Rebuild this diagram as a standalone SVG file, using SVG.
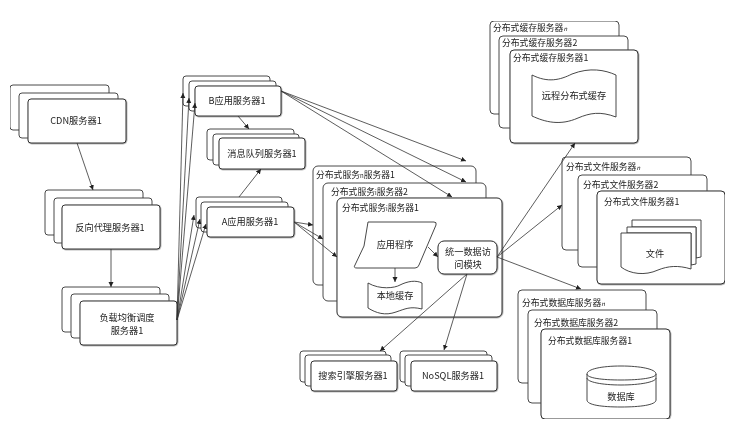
<svg xmlns="http://www.w3.org/2000/svg" width="732" height="427" viewBox="0 0 732 427">
<style>
text{font-family:"Noto Sans CJK SC","Noto Sans",sans-serif;font-size:9.2px;fill:#222;text-anchor:middle}
.l{text-anchor:start;font-size:8.8px}
.m{font-size:6px}
.b,.s{fill:#fff;stroke:#333;stroke-width:.9}
.f{fill:#fff;stroke:#333;stroke-width:1;filter:url(#sh)}
.c{fill:none;stroke:#333;stroke-width:.8;marker-end:url(#a)}
</style>
<defs>
<marker id="a" markerUnits="userSpaceOnUse" markerWidth="6" markerHeight="6" refX="5" refY="2.5" orient="auto"><path d="M0 0L5 2.5L0 5z" fill="#222"/></marker>
<filter id="sh" x="-5%" y="-5%" width="110%" height="110%"><feDropShadow dx=".5" dy=".5" stdDeviation=".3" flood-color="#777"/></filter>
<filter id="scan" x="0" y="0" width="100%" height="100%"><feGaussianBlur stdDeviation=".35"/></filter>
</defs>
<rect width="732" height="427" fill="#fff"/>
<g filter="url(#scan)">
<g id="cdn"><rect class="b" x="10" y="85" width="99" height="45" rx="3"/><rect class="b" x="19" y="93" width="99" height="45" rx="3"/><rect class="f" x="28" y="99" width="98" height="44" rx="3"/><text x="76" y="124">CDN服务器1</text></g>
<g id="proxy"><rect class="b" x="45" y="190" width="98" height="45" rx="3"/><rect class="b" x="54" y="198" width="98" height="45" rx="3"/><rect class="f" x="62" y="205" width="98" height="44" rx="3"/><text x="110" y="231">反向代理服务器1</text></g>
<g id="lb"><rect class="b" x="62" y="287" width="98" height="45" rx="3"/><rect class="b" x="71" y="294" width="98" height="44" rx="3"/><rect class="f" x="80" y="301" width="97" height="44" rx="3"/><text x="127" y="321">负载均衡调度</text><text x="127" y="334">服务器1</text></g>
<g id="appB"><rect class="b" x="183" y="76" width="87" height="30" rx="3"/><rect class="b" x="189" y="81" width="87" height="30" rx="3"/><rect class="f" x="195" y="86" width="86" height="30" rx="3"/><text x="237" y="104">B应用服务器1</text></g>
<g id="mq"><rect class="b" x="207" y="129" width="87" height="31" rx="3"/><rect class="b" x="213" y="134" width="86" height="31" rx="3"/><rect class="f" x="219" y="138" width="86" height="31" rx="3"/><text x="262" y="157">消息队列服务器1</text></g>
<g id="appA"><rect class="b" x="196" y="197" width="86" height="31" rx="3"/><rect class="b" x="201" y="202" width="87" height="30" rx="3"/><rect class="f" x="207" y="207" width="87" height="30" rx="3"/><text x="250" y="225">A应用服务器1</text></g>
<g id="svc">
<rect class="b" x="313" y="166" width="163" height="119" rx="5"/><text class="l" x="316" y="178">分布式服务<tspan class="m">n</tspan>服务器1</text>
<rect class="b" x="323" y="183" width="163" height="118" rx="5"/><text class="l" x="331" y="195">分布式服务<tspan class="m">i</tspan>服务器2</text>
<rect class="f" x="337" y="198" width="165" height="119" rx="5"/><text class="l" x="342" y="211">分布式服务<tspan class="m">i</tspan>服务器1</text>
<path class="s" d="M368 222H434Q437 222 436 225L419 265Q418 268 415 268H357Q353 268 355 265L364 246Z"/><text x="395" y="248">应用程序</text>
<path class="s" d="M368 283C380 290 395 288 400 285C408 281 416 280 422 283V309C410 306 405 309 396 312C385 316 376 313 368 308Z"/><text x="395" y="299">本地缓存</text>
<rect class="f" x="438" y="241" width="59" height="33" rx="6"/><text x="468" y="255">统一数据访</text><text x="468" y="268">问模块</text>
</g>
<g id="search"><rect class="b" x="300" y="351" width="86" height="31" rx="3"/><rect class="b" x="305" y="355" width="86" height="31" rx="3"/><rect class="f" x="311" y="361" width="86" height="30" rx="3"/><text x="353" y="379">搜索引擎服务器1</text></g>
<g id="nosql"><rect class="b" x="400" y="351" width="87" height="31" rx="3"/><rect class="b" x="405" y="355" width="87" height="31" rx="3"/><rect class="f" x="411" y="361" width="86" height="30" rx="3"/><text x="453" y="379">NoSQL服务器1</text></g>
<g id="cache">
<rect class="b" x="490" y="21" width="129" height="93" rx="4"/><text class="l" x="493" y="31">分布式缓存服务器<tspan class="m" font-style="italic">n</tspan></text>
<rect class="b" x="499" y="36" width="129" height="92" rx="4"/><text class="l" x="502" y="46">分布式缓存服务器2</text>
<rect class="f" x="510" y="50" width="128" height="93" rx="4"/><text class="l" x="513" y="61">分布式缓存服务器1</text>
<path class="s" d="M532 75C548 83 560 80 572 74C590 67 605 70 616 75V117C600 111 590 113 578 118C560 126 545 122 532 116Z"/><text x="574" y="99">远程分布式缓存</text>
</g>
<g id="file">
<rect class="b" x="562" y="157" width="129" height="93" rx="4"/><text class="l" x="566" y="170">分布式文件服务器<tspan class="m" font-style="italic">n</tspan></text>
<rect class="b" x="578" y="175" width="129" height="92" rx="4"/><text class="l" x="583" y="188">分布式文件服务器2</text>
<rect class="f" x="597" y="191" width="128" height="93" rx="4"/><text class="l" x="604" y="205">分布式文件服务器1</text>
<path class="s" d="M632 220H701V257L696 258V227H632Z"/><path class="s" d="M627 227H696V264L691 265V233H627Z"/><path class="s" d="M621 233H691V269C678 265 668 266 658 270C645 276 630 274 621 267Z"/><text x="655" y="257">文件</text>
</g>
<g id="db">
<rect class="b" x="518" y="290" width="128" height="93" rx="4"/><text class="l" x="522" y="306">分布式数据库服务器<tspan class="m" font-style="italic">n</tspan></text>
<rect class="b" x="528" y="310" width="129" height="93" rx="4"/><text class="l" x="534" y="326">分布式数据库服务器2</text>
<rect class="f" x="541" y="329" width="129" height="90" rx="4"/><text class="l" x="548" y="344">分布式数据库服务器1</text>
<path class="s" d="M587 374V400C587 405 602 407 621 407S656 405 656 400V374C656 369 640 366 621 366S587 369 587 374Z"/><path fill="none" stroke="#333" stroke-width=".9" d="M587 374C587 378 602 380 621 380S656 378 656 374M587 378C587 382 602 385 621 385S656 382 656 378"/><text x="621" y="400">数据库</text>
</g>
<g id="connectors">
<path class="c" d="M77 143L93 190"/><path class="c" d="M111 249V287"/>
<path class="c" d="M177 320L183 93"/><path class="c" d="M177 320L189 98"/><path class="c" d="M177 320L195 103"/><path class="c" d="M177 320L194 215"/><path class="c" d="M177 320L200 219"/><path class="c" d="M177 320L206 224"/>
<path class="c" d="M238 116L249 129"/><path class="c" d="M239 197L261 169"/>
<path class="c" d="M281 91L466 161"/><path class="c" d="M281 91L466 182"/><path class="c" d="M281 91L452 197"/>
<path class="c" d="M294 222L313 225"/><path class="c" d="M294 222L323 239"/><path class="c" d="M294 222L337 257"/>
<path class="c" d="M428 247L438 257"/><path class="c" d="M395 268V282"/>
<path class="c" d="M467 274L380 351"/><path class="c" d="M467 274L444 350"/>
<path class="c" d="M497 257L575 143"/><path class="c" d="M497 257L562 205"/><path class="c" d="M497 257L581 289"/>
</g>
</g>
</svg>
